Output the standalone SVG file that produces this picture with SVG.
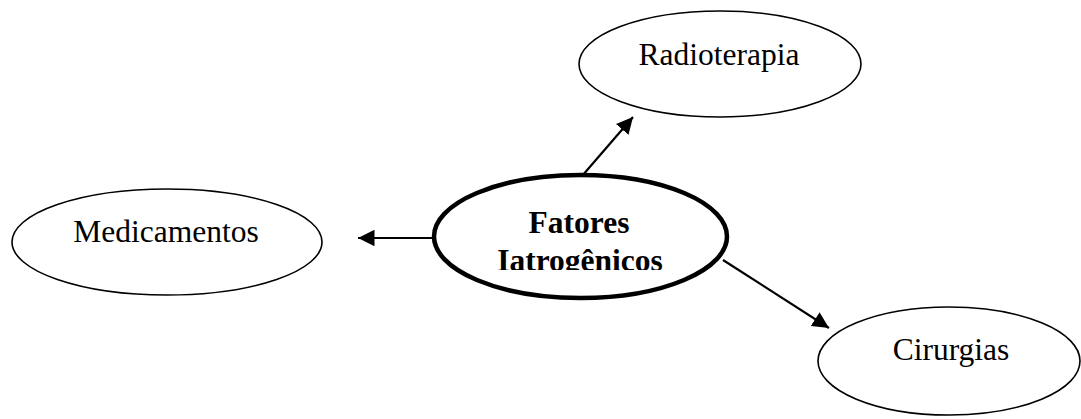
<svg xmlns="http://www.w3.org/2000/svg" width="1081" height="419" viewBox="0 0 1081 419">
  <style>
    .node { fill: #ffffff; stroke: #000000; stroke-width: 1.6; }
    .hub { fill: #ffffff; stroke: #000000; stroke-width: 4.5; }
    .label { font-family: "Liberation Serif", "Times New Roman", serif; font-size: 31.5px; fill: #000000; text-anchor: middle; }
    .bold { font-weight: bold; }
    .edge { stroke: #000000; stroke-width: 2.2; fill: none; marker-end: url(#head); }
  </style>
  <defs>
    <marker id="head" viewBox="0 0 10 10" refX="10" refY="5" markerWidth="7.5" markerHeight="7.5" markerUnits="strokeWidth" orient="auto">
      <path d="M0,0 L10,5 L0,10 Z" fill="#000000"/>
    </marker>
    <!-- the hub label is cut off at the bottom edge of its text box -->
    <clipPath id="hubText">
      <rect x="430" y="170" width="300" height="100"/>
    </clipPath>
  </defs>
  <rect width="1081" height="419" fill="#ffffff"/>

  <g id="connectors">
    <line class="edge" x1="434" y1="238" x2="358" y2="238"/>
    <line class="edge" x1="582" y1="176" x2="633" y2="117"/>
    <line class="edge" x1="723" y1="260" x2="829" y2="328"/>
  </g>

  <g id="radioterapia">
    <ellipse class="node" cx="720" cy="64" rx="141" ry="53"/>
    <text class="label" x="719" y="65">Radioterapia</text>
  </g>

  <g id="medicamentos">
    <ellipse class="node" cx="167" cy="242" rx="155" ry="53"/>
    <text class="label" x="166" y="242">Medicamentos</text>
  </g>

  <g id="cirurgias">
    <ellipse class="node" cx="949" cy="361" rx="131" ry="54"/>
    <text class="label" x="951" y="360">Cirurgias</text>
  </g>

  <g id="fatores-iatrogenicos">
    <ellipse class="hub" cx="580.5" cy="236.5" rx="146.5" ry="61.5"/>
    <g clip-path="url(#hubText)">
      <text class="label bold" x="579" y="233">Fatores</text>
      <text class="label bold" x="580" y="271">Iatrogênicos</text>
    </g>
  </g>
</svg>
